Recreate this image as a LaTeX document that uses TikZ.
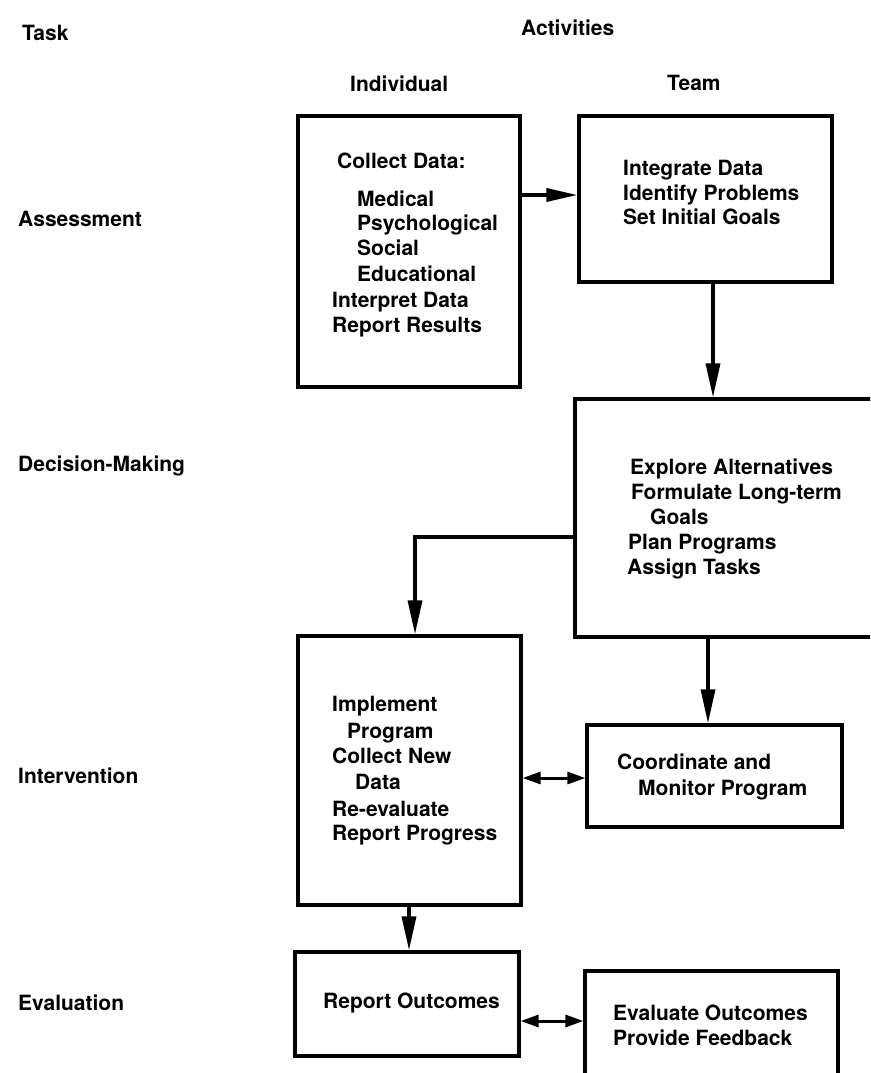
\documentclass[tikz,border=0pt]{standalone}
\usepackage{fontspec}
\setmainfont{TeX Gyre Heros}
\usetikzlibrary{arrows.meta}

\tikzset{
  box/.style={draw, line width=3.2pt, inner sep=0pt},
  txt/.style={anchor=base west, inner sep=0pt, font=\fontsize{21}{25}\selectfont\bfseries},
  conn/.style={line width=3.4pt},
  bigarrow/.style={conn, -{Triangle[length=34pt,width=14pt]}},
  sidearrow/.style={conn, -{Triangle[length=31pt,width=13pt]}},
  twoway/.style={line width=3pt, {Triangle[length=18pt,width=12pt]}-{Triangle[length=18pt,width=12pt]}}
}

\begin{document}
\begin{tikzpicture}[x=1pt, y=-1pt]
\useasboundingbox (0,0) rectangle (870,1073);
\clip (0,0) rectangle (870,1073);

% column and row headings
\node[txt] (task) at (22,41) {Task};
\node[txt] (activities) at (521,36) {Activities};
\node[txt] (individual) at (350,91) {Individual};
\node[txt] (team) at (667,90) {Team};

\node[txt] (assess) at (18,226) {Assessment};
\node[txt] (decide) at (18,471) {Decision-Making};
\node[txt] (interv) at (18,783) {Intervention};
\node[txt] (evalrow) at (18,1010) {Evaluation};

% boxes
\node[box, minimum width=222pt, minimum height=271pt] (collect) at (409,251.5) {};
\node[box, minimum width=253pt, minimum height=166pt] (integrate) at (705.5,199) {};
\node[box, minimum width=325pt, minimum height=238pt] (explore) at (737.5,518) {};
\node[box, minimum width=223pt, minimum height=269pt] (implement) at (409.5,770.5) {};
\node[box, minimum width=255pt, minimum height=102pt] (coordinate) at (714.5,776) {};
\node[box, minimum width=224pt, minimum height=104pt] (report) at (407,1004) {};
\node[box, minimum width=253pt, minimum height=129pt] (evaluate) at (711.5,1035.5) {};

% box texts
\node[txt] (c1) at (337,168) {Collect Data:};
\node[txt] (c2) at (357,206) {Medical};
\node[txt] (c3) at (357,230) {Psychological};
\node[txt] (c4) at (357,255) {Social};
\node[txt] (c5) at (357,281) {Educational};
\node[txt] (c6) at (332,307) {Interpret Data};
\node[txt] (c7) at (332,332) {Report Results};

\node[txt] (i1) at (623,175) {Integrate Data};
\node[txt] (i2) at (623,200) {Identify Problems};
\node[txt] (i3) at (623,224) {Set Initial Goals};

\node[txt] (e1) at (630,474) {Explore Alternatives};
\node[txt] (e2) at (631,499) {Formulate Long-term};
\node[txt] (e3) at (650,524) {Goals};
\node[txt] (e4) at (628,549) {Plan Programs};
\node[txt] (e5) at (627,574) {Assign Tasks};

\node[txt] (m1) at (332,711) {Implement};
\node[txt] (m2) at (347,738) {Program};
\node[txt] (m3) at (332,763) {Collect New};
\node[txt] (m4) at (355,789) {Data};
\node[txt] (m5) at (332,816) {Re-evaluate};
\node[txt] (m6) at (332,840) {Report Progress};

\node[txt] (k1) at (617,769) {Coordinate and};
\node[txt] (k2) at (638,795) {Monitor Program};

\node[txt] (r1) at (323,1008) {Report Outcomes};

\node[txt] (v1) at (613,1020) {Evaluate Outcomes};
\node[txt] (v2) at (613,1045) {Provide Feedback};

% connector guide points
\coordinate (h1) at (0,195);
\coordinate (x2) at (713,0);
\coordinate (h3) at (0,537);
\coordinate (x4) at (415,0);
\coordinate (x5) at (708,0);
\coordinate (h6) at (0,778);
\coordinate (x7) at (409,0);
\coordinate (h8) at (0,1021);

% connectors
\draw[sidearrow] (collect.east |- h1) -- (integrate.west |- h1);
\draw[bigarrow] (integrate.south -| x2) -- (explore.north -| x2);
\draw[bigarrow] (explore.west |- h3) -| (implement.north -| x4);
\draw[bigarrow] (explore.south -| x5) -- (coordinate.north -| x5);
\draw[twoway] (implement.east |- h6) -- (coordinate.west |- h6);
\draw[bigarrow] (implement.south -| x7) -- (report.north -| x7);
\draw[twoway] (report.east |- h8) -- (evaluate.west |- h8);
\end{tikzpicture}
\end{document}
